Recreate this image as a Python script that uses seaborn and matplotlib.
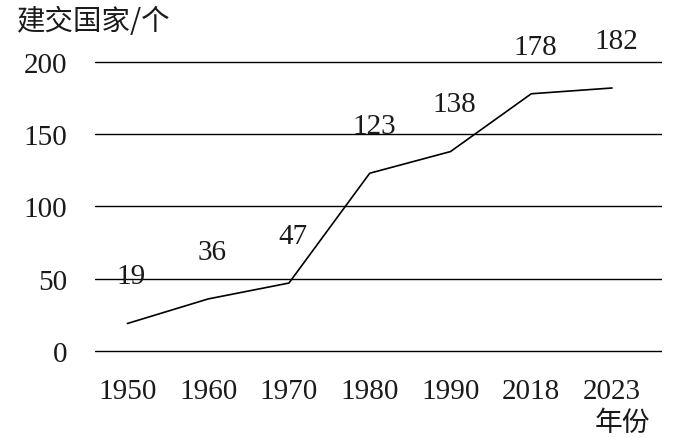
import numpy as np
import pandas as pd
import seaborn as sns
import matplotlib.pyplot as plt

years = ["1950", "1960", "1970", "1980", "1990", "2018", "2023"]
countries = [19, 36, 47, 123, 138, 178, 182]
y_ticks = [0, 50, 100, 150, 200]

df = pd.DataFrame({"year": years, "countries": countries})

sns.set_theme(style="white")
plt.rcParams["font.family"] = ["Liberation Serif", "Noto Sans CJK SC", "DejaVu Sans"]

fig = plt.figure(figsize=(6.84, 4.39), dpi=100)
ax = fig.add_axes([0.139, 0.1884, 0.829, 0.678])

sns.lineplot(data=df, x="year", y="countries", sort=False, color="black",
             linewidth=1.2, ax=ax)

# value labels above each point
for i, v in enumerate(df["countries"]):
    ax.annotate(str(v), (i, v), xytext=(3, 34), textcoords="offset points",
                ha="center", va="center", fontsize=21, color="#1a1a1a")

ax.set_xlim(-0.4, 6.62)
ax.set_ylim(-3, 203)
ax.set_yticks(y_ticks)
ax.yaxis.grid(True, color="black", linewidth=1.0)
ax.xaxis.grid(False)
for s in ax.spines.values():
    s.set_visible(False)
ax.tick_params(axis="both", length=0, labelsize=21, colors="#1a1a1a")
ax.tick_params(axis="y", pad=20)
ax.tick_params(axis="x", pad=16)
ax.set_xlabel("")
ax.set_ylabel("")

fig.text(17 / 684, 1 - 22 / 439, "建交国家/个", fontsize=20.5, va="center", ha="left",
         family=["Noto Sans CJK SC"], color="#1a1a1a")
fig.text(622 / 684, 1 - 423 / 439, "年份", fontsize=20, va="center", ha="center",
         family=["Noto Sans CJK SC"], color="#1a1a1a")

fig.savefig("out.png", dpi=100, facecolor="white")
